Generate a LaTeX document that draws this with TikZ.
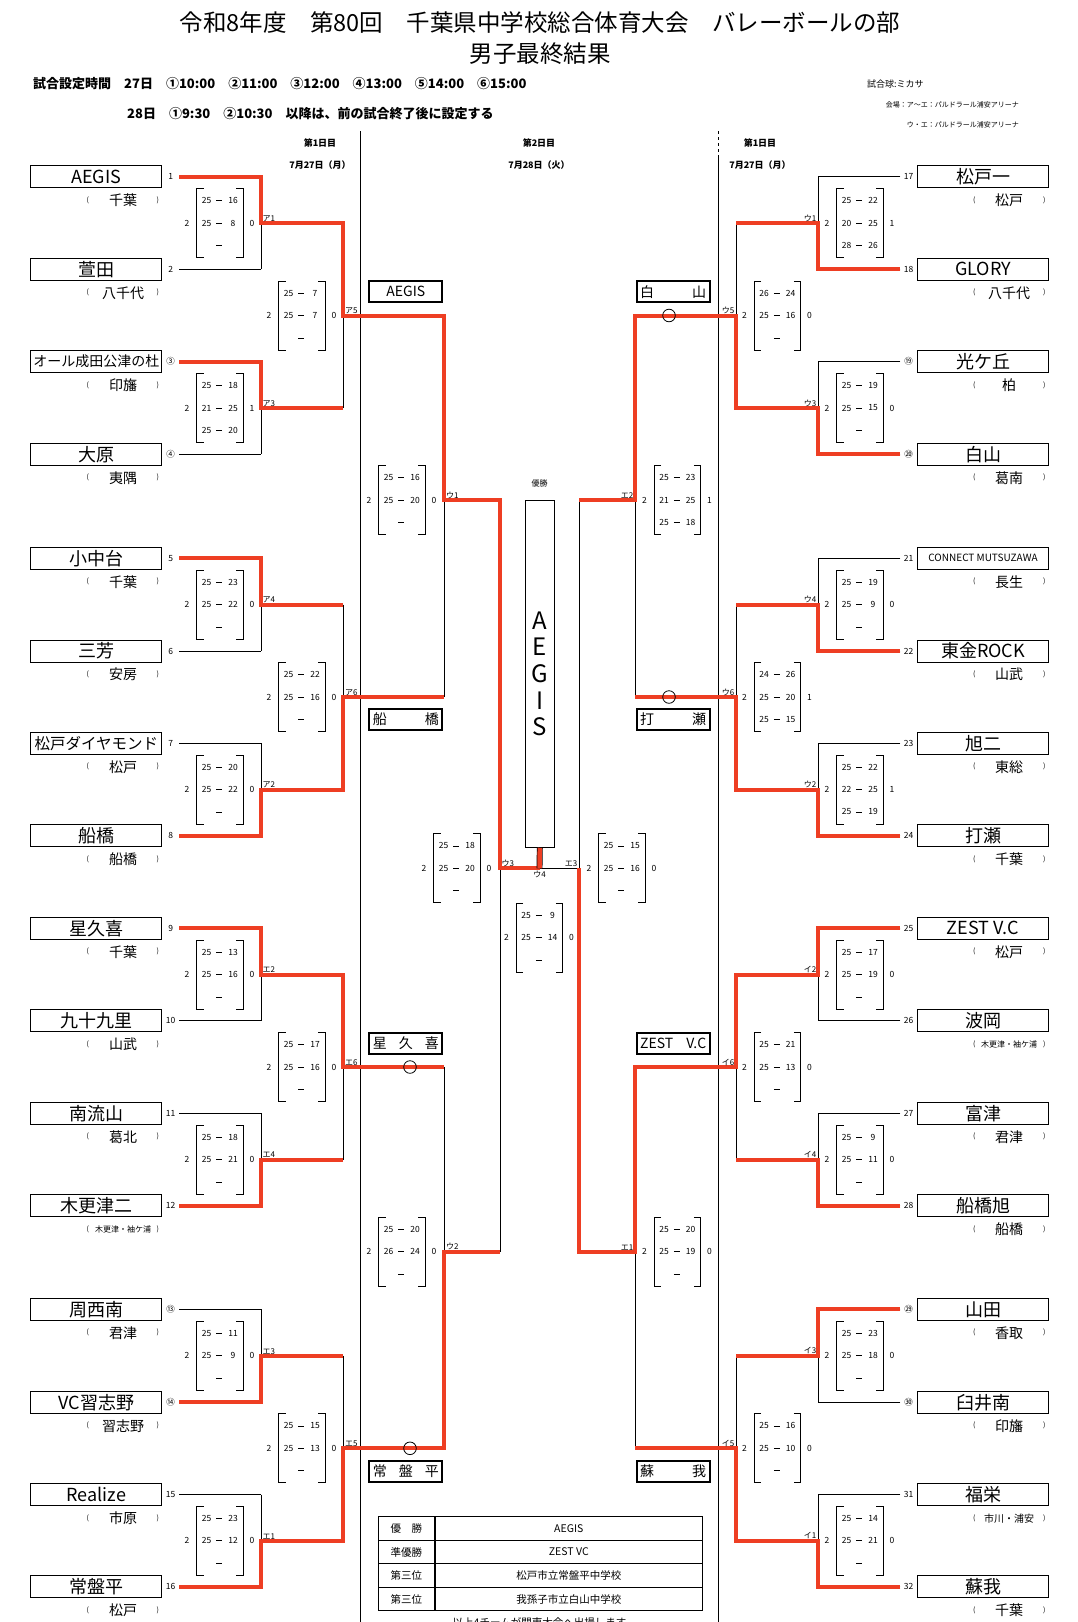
\documentclass[tikz,border=0pt]{standalone}
\usepackage{fontspec}
\setmainfont{Noto Sans CJK JP}
\usetikzlibrary{calc}
\definecolor{bracketred}{RGB}{238,62,35}

\newcommand{\fsz}[1]{\fontsize{#1}{#1}\selectfont}
% score box: name, x, y, sets won, sets lost, rows a/b
\newcommand{\scorebox}[6]{%
  \coordinate (#1) at (#2,#3);
  \draw[bracket] ($(#1)+(-16.3,-34.5)$) -- ++(-7,0) -- ++(0,69) -- ++(7,0);
  \draw[bracket] ($(#1)+(16.3,-34.5)$) -- ++(7,0) -- ++(0,69) -- ++(-7,0);
  \foreach \dy in {-22.4,0,22.4}
    \draw[bracket] ($(#1)+(-3.7,\dy)$) -- ++(6,0);
  \node[score] (#1-w) at ($(#1)+(-33,0)$) {#4};
  \node[score] (#1-l) at ($(#1)+(32,0)$) {#5};
  \foreach \a/\b [count=\r] in {#6} {
    \node[score] (#1-a\r) at ($(#1)+(-13.5,-44.8+22.4*\r)$) {\a};
    \node[score] (#1-b\r) at ($(#1)+(13,-44.8+22.4*\r)$) {\b};
  }%
}

\begin{document}
\begin{tikzpicture}[x=1pt, y=-1pt,
    line/.style={draw=black, line width=0.8pt},
    bracket/.style={draw=black, line width=0.8pt},
    win/.style={draw=bracketred, line width=4pt},
    team/.style={draw, line width=0.9pt, minimum width=131, minimum height=22, inner sep=0pt, font=\fsz{18}},
    region/.style={font=\fsz{14}},
    paren/.style={font=\fsz{7}},
    seed/.style={font=\fsz{8.5}},
    score/.style={font=\fsz{8.5}, inner sep=0pt},
    tag/.style={font=\fsz{8}, inner sep=0.5pt},
    winbox/.style={draw, line width=2pt, minimum width=73, minimum height=21, text width=66, align=center, inner sep=0pt, font=\fsz{14}},
    ring/.style={draw, line width=0.8pt, circle, minimum size=12.6, inner sep=0pt},
    title/.style={font=\fsz{23.5}},
    info/.style={font=\bfseries\fsz{13}, inner sep=0pt},
    note/.style={font=\fsz{8}, inner sep=0pt},
    day/.style={font=\bfseries\fsz{9}},
    cell/.style={font=\fsz{10.5}, inner sep=0pt}
]
\fill[white] (0,0) rectangle (1078,1622);
\useasboundingbox (0,0) rectangle (1078,1622);

% heading
\node[title] (title) at (540,23) {令和8年度　第80回　千葉県中学校総合体育大会　バレーボールの部};
\node[title] (subtitle) at (540,54) {男子最終結果};
\node[info, anchor=west] (times1) at (33,84) {試合設定時間　27日　①10:00　②11:00　③12:00　④13:00　⑤14:00　⑥15:00};
\node[info, anchor=west] (times2) at (127,114) {28日　①9:30　②10:30　以降は、前の試合終了後に設定する};
\node[note, anchor=west, font=\fsz{9}] (ball) at (867,84) {試合球:ミカサ};
\node[note, anchor=east, font=\fsz{7}] (venue1) at (1019,104.5) {会場：ア～エ：パルドラール浦安アリーナ};
\node[note, anchor=east, font=\fsz{7}] (venue2) at (1019,125) {ウ・エ：パルドラール浦安アリーナ};

\node[day] (dayL) at (320,143) {第1日目};
\node[day] (dateL) at (320,165.5) {7月27日（月）};
\node[day] (dayC) at (539,143) {第2日目};
\node[day] (dateC) at (539,165.5) {7月28日（火）};
\node[day] (dayR) at (760,143) {第1日目};
\node[day] (dateR) at (760,165.5) {7月27日（月）};

\draw[line] (360.3,131) -- (360.3,1622);
\draw[line, dashed] (718.7,131) -- (718.7,157);
\draw[line] (718.7,157) -- (718.7,1622);

% teams, left side
\foreach \i/\y/\nm/\rg/\sd in {
1/176.7/AEGIS/千葉/1,
2/269.3/萱田/八千代/2,
3/361.7/{\fsz{14}オール成田公津の杜}/印旛/③,
4/454.3/大原/夷隅/④,
5/558.3/小中台/千葉/5,
6/651/三芳/安房/6,
7/743.3/{\fsz{15.5}松戸ダイヤモンド}/松戸/7,
8/835.7/船橋/船橋/8,
9/928.3/星久喜/千葉/9,
10/1020.7/九十九里/山武/10,
11/1113.3/南流山/葛北/11,
12/1205.7/木更津二/{\fsz{8}木更津・袖ケ浦}/12,
13/1309.3/周西南/君津/⑬,
14/1402.3/VC習志野/習志野/⑭,
15/1494.7/Realize/市原/15,
16/1586.7/常盤平/松戸/16}
{
  \node[team] (L\i) at (96.3,\y) {\nm};
  \node[seed] (Lsd\i) at (170.7,\y) {\sd};
  \node[region] (Lrg\i) at (123,\y+23.5) {\rg};
  \node[paren] (Lpa\i) at (87.7,\y+23.5) {(};
  \node[paren] (Lpb\i) at (157.7,\y+23.5) {)};
  \coordinate (LS\i) at (179,\y);
  \coordinate (LE\i) at (261,\y);
}

% teams, right side
\foreach \i/\y/\nm/\rg/\sd in {
1/176.7/松戸一/松戸/17,
2/269.3/GLORY/八千代/18,
3/361.7/光ケ丘/柏/⑲,
4/454.3/白山/葛南/⑳,
5/558.3/{\fsz{10}CONNECT MUTSUZAWA}/長生/21,
6/651/東金ROCK/山武/22,
7/743.3/旭二/東総/23,
8/835.7/打瀬/千葉/24,
9/928.3/ZEST V.C/松戸/25,
10/1020.7/波岡/{\fsz{8}木更津・袖ケ浦}/26,
11/1113.3/富津/君津/27,
12/1205.7/船橋旭/船橋/28,
13/1309.3/山田/香取/㉙,
14/1402.3/臼井南/印旛/㉚,
15/1494.7/福栄/{\fsz{10}市川・浦安}/31,
16/1586.7/蘇我/千葉/32}
{
  \node[team] (R\i) at (983,\y) {\nm};
  \node[seed] (Rsd\i) at (908.7,\y) {\sd};
  \node[region] (Rrg\i) at (1009,\y+23.5) {\rg};
  \node[paren] (Rpa\i) at (974.3,\y+23.5) {(};
  \node[paren] (Rpb\i) at (1044.3,\y+23.5) {)};
  \coordinate (RS\i) at (900.3,\y);
  \coordinate (RE\i) at (818,\y);
}

% junctions
\foreach \k/\m in {1/223,2/408,3/604.7,4/789.5,5/974.5,6/1159.5,7/1355.8,8/1540.7} {
  \coordinate (LA\k) at (261,\m);   \coordinate (LB\k) at (343.3,\m);
  \coordinate (RA\k) at (818,\m);   \coordinate (RB\k) at (736,\m);
}
\foreach \j/\n in {1/315.5,2/697,3/1067,4/1448.3} {
  \coordinate (LC\j) at (343.3,\n); \coordinate (LD\j) at (444.3,\n);
  \coordinate (RC\j) at (736,\n);   \coordinate (RD\j) at (635,\n);
}
\coordinate (LF1) at (444.3,500);    \coordinate (LG1) at (500,500);
\coordinate (LF2) at (444.3,1251.7); \coordinate (LG2) at (500,1251.7);
\coordinate (RF1) at (635,500);      \coordinate (RG1) at (579,500);
\coordinate (RF2) at (635,1251.7);   \coordinate (RG2) at (579,1251.7);
\coordinate (LH) at (500,868.3);
\coordinate (RH) at (579,868.3);
\coordinate (F) at (539.5,868.3);

% bracket lines
\foreach \i in {1,...,16} {
  \draw[line] (LS\i) -- (LE\i);
  \draw[line] (RS\i) -- (RE\i);
}
\foreach \k in {1,...,8} {
  \pgfmathtruncatemacro\a{2*\k-1}
  \pgfmathtruncatemacro\b{2*\k}
  \draw[line] (LE\a) -- (LE\b);  \draw[line] (LA\k) -- (LB\k);
  \draw[line] (RE\a) -- (RE\b);  \draw[line] (RA\k) -- (RB\k);
}
\foreach \j in {1,...,4} {
  \pgfmathtruncatemacro\a{2*\j-1}
  \pgfmathtruncatemacro\b{2*\j}
  \draw[line] (LB\a) -- (LB\b);  \draw[line] (LC\j) -- (LD\j);
  \draw[line] (RB\a) -- (RB\b);  \draw[line] (RC\j) -- (RD\j);
}
\draw[line] (LD1) -- (LD2);  \draw[line] (LF1) -- (LG1);
\draw[line] (LD3) -- (LD4);  \draw[line] (LF2) -- (LG2);
\draw[line] (RD1) -- (RD2);  \draw[line] (RF1) -- (RG1);
\draw[line] (RD3) -- (RD4);  \draw[line] (RF2) -- (RG2);
\draw[line] (LG1) -- (LG2);  \draw[line] (LH) -- (F);
\draw[line] (RG1) -- (RG2);  \draw[line] (RH) -- (F);

% winners
\draw[win] (LS1) -- (LE1) -- (LA1) -- (LB1) -- (LC1) -- (LD1) -- (LF1) -- (LG1) -- (LH) -- (F);
\draw[win] (LS3) -- (LE3) -- (LA2) -- (LB2);
\draw[win] (LS5) -- (LE5) -- (LA3) -- (LB3);
\draw[win] (LS8) -- (LE8) -- (LA4) -- (LB4) -- (LC2) -- (LD2);
\draw[win] (LS9) -- (LE9) -- (LA5) -- (LB5) -- (LC3) -- (LD3);
\draw[win] (LS12) -- (LE12) -- (LA6) -- (LB6);
\draw[win] (LS14) -- (LE14) -- (LA7) -- (LB7);
\draw[win] (LS16) -- (LE16) -- (LA8) -- (LB8) -- (LC4) -- (LD4) -- (LF2) -- (LG2);
\draw[win] (RS2) -- (RE2) -- (RA1) -- (RB1);
\draw[win] (RS4) -- (RE4) -- (RA2) -- (RB2) -- (RC1) -- (RD1) -- (RF1) -- (RG1);
\draw[win] (RS6) -- (RE6) -- (RA3) -- (RB3);
\draw[win] (RS8) -- (RE8) -- (RA4) -- (RB4) -- (RC2) -- (RD2);
\draw[win] (RS9) -- (RE9) -- (RA5) -- (RB5) -- (RC3) -- (RD3) -- (RF2) -- (RG2) -- (RH);
\draw[win] (RS12) -- (RE12) -- (RA6) -- (RB6);
\draw[win] (RS13) -- (RE13) -- (RA7) -- (RB7);
\draw[win] (RS16) -- (RE16) -- (RA8) -- (RB8) -- (RC4) -- (RD4);

% champion
\node[draw, line width=0.9pt, minimum width=29, minimum height=346.6, inner sep=0pt, align=center, font=\fontsize{24}{26.65}\selectfont] (champ) at (539.8,674) {A\\E\\G\\I\\S};
\node[tag] (champlabel) at (539.5,483.3) {優勝};
\draw[draw=black, line width=0.7pt, double=bracketred, double distance=4.5pt] (F) -- (champ.south);

% third round winners
\node[winbox] (w1) at (405.8,291.7) {AEGIS};
\node[winbox] (w2) at (405.8,719.3) {船\hfill 橋};
\node[winbox] (w3) at (405.8,1043.3) {星\hfill 久\hfill 喜};
\node[winbox] (w4) at (405.8,1471.3) {常\hfill 盤\hfill 平};
\node[winbox] (w5) at (673.2,291.7) {白\hfill 山};
\node[winbox] (w6) at (673.2,719.3) {打\hfill 瀬};
\node[winbox] (w7) at (673.2,1043.3) {ZEST\hfill V.C};
\node[winbox] (w8) at (673.2,1471.3) {蘇\hfill 我};
\node[ring] (o1) at (410,1067) {};
\node[ring] (o2) at (410,1448.3) {};
\node[ring] (o3) at (669,315.5) {};
\node[ring] (o4) at (669,697) {};

% match tags
\foreach \t/\c in {ア1/LA1,ア3/LA2,ア4/LA3,ア2/LA4,エ2/LA5,エ4/LA6,エ3/LA7,エ1/LA8,ア5/LC1,ア6/LC2,エ6/LC3,エ5/LC4,ウ1/LF1,ウ2/LF2,ウ3/LH}
  \node[tag, anchor=south west, xshift=1pt, yshift=1pt] (tag\c) at (\c) {\t};
\foreach \t/\c in {ウ1/RA1,ウ3/RA2,ウ4/RA3,ウ2/RA4,イ2/RA5,イ4/RA6,イ3/RA7,イ1/RA8,ウ5/RC1,ウ6/RC2,イ6/RC3,イ5/RC4,エ2/RF1,エ1/RF2,エ3/RH}
  \node[tag, anchor=south east, xshift=-1pt, yshift=1pt] (tag\c) at (\c) {\t};
\node[tag, anchor=north, yshift=-2pt] (tagF) at (F) {ウ4};

% scores
\scorebox{sLA1}{220}{223}{2}{0}{25/16,25/8}
\scorebox{sLA2}{220}{408}{2}{1}{25/18,21/25,25/20}
\scorebox{sLA3}{220}{604.7}{2}{0}{25/23,25/22}
\scorebox{sLA4}{220}{789.5}{2}{0}{25/20,25/22}
\scorebox{sLA5}{220}{974.5}{2}{0}{25/13,25/16}
\scorebox{sLA6}{220}{1159.5}{2}{0}{25/18,25/21}
\scorebox{sLA7}{220}{1355.8}{2}{0}{25/11,25/9}
\scorebox{sLA8}{220}{1540.7}{2}{0}{25/23,25/12}
\scorebox{sLC1}{302}{315.5}{2}{0}{25/7,25/7}
\scorebox{sLC2}{302}{697}{2}{0}{25/22,25/16}
\scorebox{sLC3}{302}{1067}{2}{0}{25/17,25/16}
\scorebox{sLC4}{302}{1448.3}{2}{0}{25/15,25/13}
\scorebox{sLF1}{402}{500}{2}{0}{25/16,25/20}
\scorebox{sLF2}{402}{1251.7}{2}{0}{25/20,26/24}
\scorebox{sLH}{457}{868.3}{2}{0}{25/18,25/20}
\scorebox{sRA1}{860}{223}{2}{1}{25/22,20/25,28/26}
\scorebox{sRA2}{860}{408}{2}{0}{25/19,25/15}
\scorebox{sRA3}{860}{604.7}{2}{0}{25/19,25/9}
\scorebox{sRA4}{860}{789.5}{2}{1}{25/22,22/25,25/19}
\scorebox{sRA5}{860}{974.5}{2}{0}{25/17,25/19}
\scorebox{sRA6}{860}{1159.5}{2}{0}{25/9,25/11}
\scorebox{sRA7}{860}{1355.8}{2}{0}{25/23,25/18}
\scorebox{sRA8}{860}{1540.7}{2}{0}{25/14,25/21}
\scorebox{sRC1}{777.5}{315.5}{2}{0}{26/24,25/16}
\scorebox{sRC2}{777.5}{697}{2}{1}{24/26,25/20,25/15}
\scorebox{sRC3}{777.5}{1067}{2}{0}{25/21,25/13}
\scorebox{sRC4}{777.5}{1448.3}{2}{0}{25/16,25/10}
\scorebox{sRF1}{677.5}{500}{2}{1}{25/23,21/25,25/18}
\scorebox{sRF2}{677.5}{1251.7}{2}{0}{25/20,25/19}
\scorebox{sRH}{622}{868.3}{2}{0}{25/15,25/16}
\scorebox{sF}{539.5}{937.5}{2}{0}{25/9,25/14}

% results table
\foreach \r/\a/\b in {1/優　勝/AEGIS,2/準優勝/ZEST VC,3/第三位/松戸市立常盤平中学校,4/第三位/我孫子市立白山中学校} {
  \node[cell, draw, line width=0.8pt, minimum width=56, minimum height=23.5] (rk\r) at (406.3,1505+23.5*\r) {\a};
  \node[cell, draw, line width=0.8pt, minimum width=267.4, minimum height=23.5, anchor=west] (rn\r) at (rk\r.east) {\b};
}
\node[cell, anchor=north] (qual) at (539.5,1617.5) {以上4チームが関東大会へ出場します};
\end{tikzpicture}
\end{document}
